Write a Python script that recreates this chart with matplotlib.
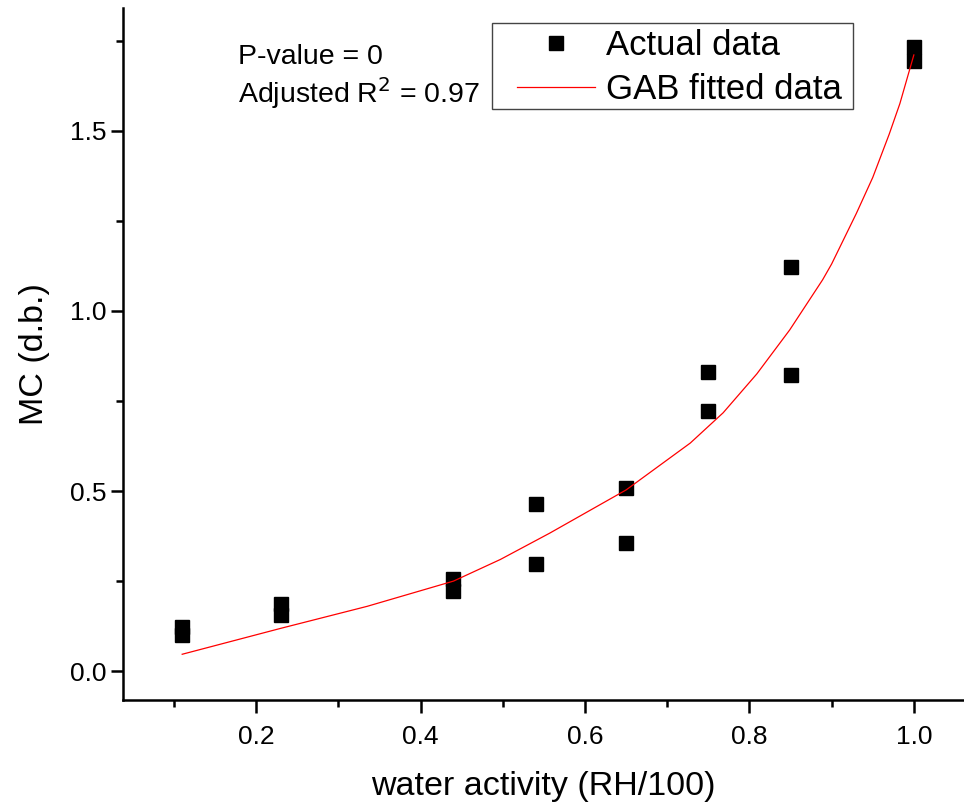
"""GAB sorption isotherm: measured MC vs water activity with the fitted curve."""
import matplotlib; matplotlib.use("Agg")
import matplotlib.pyplot as plt
from matplotlib.patches import Rectangle
from matplotlib.ticker import MultipleLocator

plt.rcParams["font.family"] = ["Liberation Sans", "DejaVu Sans"]

# measured points (two replicates per water activity)
aw_actual = [0.11, 0.11, 0.23, 0.23, 0.44, 0.44, 0.54, 0.54,
             0.65, 0.65, 0.75, 0.75, 0.85, 0.85, 1.0, 1.0]
mc_actual = [0.122, 0.100, 0.186, 0.156, 0.256, 0.222, 0.464, 0.298,
             0.507, 0.356, 0.831, 0.722, 1.122, 0.822, 1.731, 1.694]

# GAB fitted curve
aw_fit = [0.11, 0.23, 0.335, 0.44, 0.497, 0.557, 0.65, 0.728, 0.768,
          0.809, 0.849, 0.889, 0.90, 0.93, 0.95, 0.97, 0.983, 1.0]
mc_fit = [0.047, 0.119, 0.180, 0.250, 0.310, 0.383, 0.503, 0.633, 0.717,
          0.825, 0.947, 1.086, 1.130, 1.270, 1.370, 1.490, 1.575, 1.710]

fig = plt.figure(figsize=(9.64, 8.09), dpi=100)
ax = fig.add_axes([0.1276, 0.1347, 0.8724, 0.8553])

ax.plot(aw_actual, mc_actual, ls="none", marker="s", ms=10, color="black",
        label="Actual data")
ax.plot(aw_fit, mc_fit, color="red", lw=0.9, label="GAB fitted data")

ax.set_xlim(0.038, 1.061)
ax.set_ylim(-0.08, 1.84)
ax.xaxis.set_major_locator(MultipleLocator(0.2))
ax.xaxis.set_minor_locator(MultipleLocator(0.1))
ax.yaxis.set_major_locator(MultipleLocator(0.5))
ax.yaxis.set_minor_locator(MultipleLocator(0.25))
ax.xaxis.set_major_formatter(lambda v, p: f"{v:.1f}")
ax.yaxis.set_major_formatter(lambda v, p: f"{v:.1f}")

for s in ("top", "right"):
    ax.spines[s].set_visible(False)
for s in ("left", "bottom"):
    ax.spines[s].set_linewidth(1.8)
ax.tick_params(which="major", direction="out", length=9, width=1.8, labelsize=19)
ax.tick_params(which="minor", direction="out", length=5, width=1.8)
ax.tick_params(axis="x", which="major", pad=9)
ax.tick_params(axis="y", which="major", pad=3)

ax.set_xlabel("water activity (RH/100)", fontsize=24.5, labelpad=16)
ax.set_ylabel("MC (d.b.)", fontsize=24.5, labelpad=14)

ax.text(238, 809 - 57, "P-value = 0", transform=None, fontsize=20.5, va="center")
ax.text(238, 809 - 93, "Adjusted R$^2$ = 0.97", transform=None, fontsize=20.5,
        va="center")

# Origin-style legend: wider left margin than matplotlib's borderpad, so the
# frame is drawn separately
ax.legend(loc="upper left", bbox_to_anchor=(508 / 964, 1 - 20 / 809),
          bbox_transform=fig.transFigure, fontsize=25, frameon=False,
          borderaxespad=0, handlelength=2.25, handletextpad=0.32,
          borderpad=0.25, labelspacing=0.33)
fig.add_artist(Rectangle((492 / 964, 1 - 109 / 809), 361 / 964, 86 / 809,
                         transform=fig.transFigure, fill=False,
                         edgecolor="#444444", lw=1.0))

fig.savefig("out.png", dpi=100)
